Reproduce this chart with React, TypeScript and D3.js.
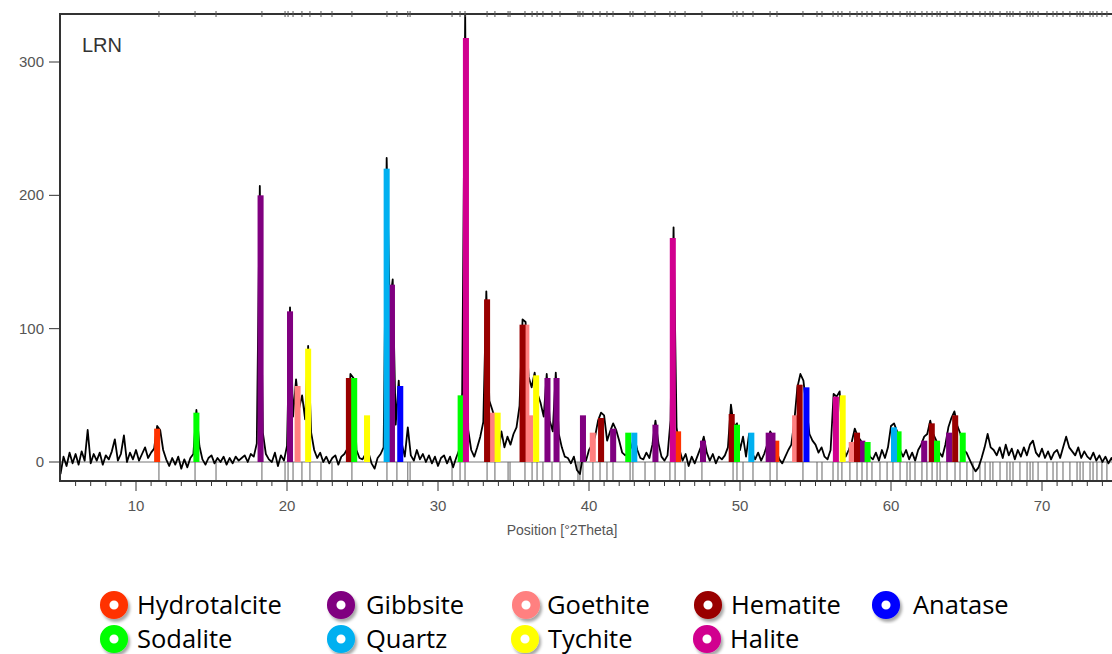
import React from "react";
import * as d3 from "d3";

// XRD scan, step 0.2 °2θ starting at 5.0
const scanStart = 5;
const scanStep = 0.2;
const intensity = [
  -9, 4, -3, 7, -1, 6, -2, 8, 1, 24,
  -1, 6, 1, 7, -2, 5, 2, 8, 17, 1,
  6, 20, 0, 7, 2, 9, 1, 6, 11, 3,
  7, 10, 27, 24, 9, 2, -3, 3, -2, 4,
  -5, 2, -4, 3, 6, 39, 12, 2, -2, 3,
  5, -1, 3, 0, 4, -2, 3, -1, 4, 1,
  3, 5, 0, 6, 4, 14, 207, 22, 6, 2,
  0, 7, -3, 5, 1, 12, 116, 34, 62, 40,
  50, 32, 87, 22, 9, 3, 7, 0, 4, -1,
  3, 5, -2, 4, 6, 10, 66, 63, 9, 3,
  2, 6, 7, -1, -5, 3, 6, 11, 228, 118,
  137, 28, 61, 14, 4, 26, 5, 1, 9, 2,
  6, 0, 5, -1, 4, -3, 3, 5, -1, 4,
  -4, 3, 9, 52, 336, 24, 9, 4, 11, 19,
  30, 128, 46, 39, 31, 7, 23, 11, 19, 13,
  21, 26, 42, 107, 105, 64, 56, 67, 51, 44,
  34, 66, 31, 23, 67, 21, 11, 4, 3, -1,
  4, -6, -9, 5, 1, 9, 13, 19, 31, 37,
  35, 16, 23, 29, 24, 16, 7, 5, 7, 11,
  19, 9, 3, 2, 7, 3, 13, 31, 14, 4,
  1, 5, 31, 176, 26, 9, 1, 6, -3, 4,
  -1, 5, 11, 19, 7, 1, 6, -1, 4, 2,
  5, 11, 43, 26, 29, 9, 19, 4, 21, 7,
  2, 7, 1, 6, 13, 23, 19, 9, 2, -1,
  4, 9, 13, 31, 56, 66, 61, 41, 21, 16,
  13, 7, 11, 4, 2, 9, 51, 49, 53, 14,
  4, 9, 15, 25, 19, 16, 11, 12, 4, 2,
  7, 1, 9, 3, 11, 27, 29, 23, 9, 4,
  9, 2, 7, 1, 9, 13, 19, 21, 31, 21,
  16, 7, 4, 13, 26, 33, 38, 27, 21, 9,
  7, 2, -3, -7, -4, 3, 11, 21, 11, 9,
  5, 11, 3, 13, 5, 10, 2, 9, 4, 11,
  5, 13, 16, 7, 4, 10, 3, 8, 2, 7,
  9, 3, 11, 19, 11, 8, 5, 11, 3, 8,
  4, 2, 7, 1, 5, 0, 4, -1, 3, -2,
  1,
];

// reference stick positions (°2θ)
const sticks = [
  11.52, 13.91, 15.3, 18.34, 19.87, 20.07, 20.4, 20.99, 21.52, 22.25, 22.98, 24.3,
  26.62, 27.28, 28.0, 28.15, 30.93, 31.46, 31.79, 33.25, 33.77, 34.64, 34.77, 35.76,
  36.23, 36.56, 36.95, 37.55, 38.08, 39.27, 39.4, 39.6, 40.26, 40.73, 41.19, 41.59,
  42.72, 42.91, 43.71, 44.37, 45.36, 45.7, 46.36, 47.48, 49.54, 49.8, 50.2, 50.86,
  51.99, 52.45, 54.17, 55.1, 55.43, 56.16, 56.49, 56.75, 57.28, 57.75, 58.08, 58.41,
  58.74, 59.27, 59.74, 60.13, 60.6, 61.06, 61.26, 61.59, 62.05, 62.38, 62.72, 63.05,
  63.25, 63.71, 64.24, 64.57, 65.03, 65.43, 65.89, 66.23, 66.56, 66.75, 67.22, 67.68,
  67.88, 68.08, 68.54, 69.01, 69.21, 69.4, 69.74, 70.33, 70.73, 70.99, 71.39, 71.85,
  72.32, 72.52, 72.72, 73.18, 73.38, 73.64, 73.97, 74.3,
];

const phases = ["Hydrotalcite", "Gibbsite", "Goethite", "Hematite", "Anatase", "Sodalite", "Quartz", "Tychite", "Halite"];
const phaseColors = ["#ff3300", "#800080", "#ff8080", "#990000", "#0000ff", "#00ff00", "#00b0f0", "#ffff00", "#d1008f"];

// [position °2θ, counts]
const hydrotalcitePeaks = [[11.4, 25], [45.9, 23], [52.4, 16]];
const gibbsitePeaks = [[18.25, 200], [20.2, 113], [26.95, 133], [37.25, 63], [37.85, 63], [39.6, 35], [41.6, 25], [44.4, 28], [47.55, 16], [51.9, 22], [52.15, 22], [58.1, 16], [62.2, 16], [63.85, 22]];
const goethitePeaks = [[20.7, 57], [33.6, 37], [35.85, 103], [36.1, 35], [40.25, 22], [53.65, 35], [57.4, 15]];
const hematitePeaks = [[24.1, 63], [33.25, 122], [35.6, 103], [40.8, 33], [49.45, 36], [53.95, 58], [57.75, 22], [62.7, 29], [64.25, 35]];
const anatasePeaks = [[27.5, 57], [54.4, 56]];
const sodalitePeaks = [[14.0, 37], [24.45, 63], [31.5, 50], [42.6, 22], [49.8, 28], [58.45, 15], [60.5, 23], [63.05, 16], [64.75, 22]];
const quartzPeaks = [[26.6, 220], [43.0, 22], [50.75, 22], [60.2, 26]];
const tychitePeaks = [[21.4, 85], [25.3, 35], [33.95, 37], [36.5, 65], [56.8, 50]];
const halitePeaks = [[31.85, 318], [45.55, 168], [56.35, 49]];

const phasePeaks = [hydrotalcitePeaks, gibbsitePeaks, goethitePeaks, hematitePeaks, anatasePeaks, sodalitePeaks, quartzPeaks, tychitePeaks, halitePeaks];

const xTicks = [10, 20, 30, 40, 50, 60, 70];
const yTicks = [0, 100, 200, 300];

export default function App() {
  const W = 1112;
  const H = 654;
  const left = 60;
  const top = 14;
  const axisY = 481;

  const x = d3.scaleLinear().domain([5, 75]).range([60.5, 1117.5]);
  const y = d3.scaleLinear().domain([0, 300]).range([462, 62]);

  const scan = intensity.map((v, i) => [scanStart + i * scanStep, v] as [number, number]);
  const line = d3
    .line<[number, number]>()
    .x((d) => x(d[0]))
    .y((d) => y(d[1]));

  const barHalf = 0.2;
  const minor = d3.range(6, 75, 1);

  const legendItems = [
    { i: 0, cx: 114, cy: 605, tx: 137 },
    { i: 1, cx: 341, cy: 605, tx: 366 },
    { i: 2, cx: 526, cy: 605, tx: 547 },
    { i: 3, cx: 708, cy: 605, tx: 731 },
    { i: 4, cx: 886, cy: 605, tx: 913 },
    { i: 5, cx: 114, cy: 639, tx: 137 },
    { i: 6, cx: 341, cy: 639, tx: 366 },
    { i: 7, cx: 525, cy: 639, tx: 548 },
    { i: 8, cx: 707, cy: 639, tx: 730 },
  ];

  return (
    <svg width={W} height={H} style={{ position: "absolute", left: 0, top: 0, background: "#fff" }} fontFamily="'Liberation Sans', Arial, sans-serif">
      <defs>
        <filter id="shadow" x="-50%" y="-50%" width="200%" height="200%">
          <feDropShadow dx="2" dy="3" stdDeviation="1.5" floodColor="#000" floodOpacity="0.35" />
        </filter>
        <clipPath id="plot">
          <rect x={left} y={top} width={W - left} height={axisY - top} />
        </clipPath>
      </defs>

      {/* zero line */}
      <line x1={left} x2={W} y1={y(0)} y2={y(0)} stroke="#777" strokeWidth={1} />

      {/* reference sticks */}
      <g stroke="#666" strokeWidth={1}>
        {sticks.map((s, i) => (
          <line key={i} x1={x(s)} x2={x(s)} y1={y(0)} y2={axisY} />
        ))}
      </g>

      {/* scan */}
      <g clipPath="url(#plot)">
        <path d={line(scan) || ""} fill="none" stroke="#000" strokeWidth={1.8} strokeLinejoin="round" />
        {phasePeaks.map((peaks, p) =>
          peaks.map((pk, j) => (
            <rect
              key={p + "-" + j}
              x={x(pk[0] - barHalf)}
              width={x(pk[0] + barHalf) - x(pk[0] - barHalf)}
              y={y(pk[1])}
              height={y(0) - y(pk[1])}
              fill={phaseColors[p]}
            />
          ))
        )}
      </g>

      {/* frame */}
      <line x1={left} x2={W} y1={top} y2={top} stroke="#333" strokeWidth={2} />
      <line x1={left} x2={left} y1={top - 1} y2={axisY + 1} stroke="#333" strokeWidth={2} />
      <line x1={left} x2={W} y1={axisY} y2={axisY} stroke="#333" strokeWidth={2} />

      {/* top ticks at stick positions */}
      <g stroke="#555" strokeWidth={1}>
        {sticks.map((s, i) => (
          <line key={i} x1={x(s)} x2={x(s)} y1={top - 3} y2={top + 3} />
        ))}
      </g>

      {/* x axis ticks */}
      <g stroke="#333" strokeWidth={1}>
        {minor.map((t) => (
          <line key={t} x1={x(t)} x2={x(t)} y1={axisY} y2={axisY + (t % 10 === 0 ? 10 : 5)} />
        ))}
      </g>
      <g fill="#555" fontSize={15} textAnchor="middle">
        {xTicks.map((t) => (
          <text key={t} x={x(t)} y={511}>
            {t}
          </text>
        ))}
      </g>
      <text x={562} y={535} fill="#555" fontSize={14} textAnchor="middle">
        Position [°2Theta]
      </text>

      {/* y axis */}
      <g stroke="#333" strokeWidth={1}>
        {yTicks.map((t) => (
          <line key={t} x1={49} x2={left} y1={y(t)} y2={y(t)} />
        ))}
      </g>
      <g fill="#555" fontSize={15} textAnchor="end">
        {yTicks.map((t) => (
          <text key={t} x={44} y={y(t) + 5}>
            {t}
          </text>
        ))}
      </g>

      <text x={82} y={52} fill="#333" fontSize={20}>
        LRN
      </text>

      {/* legend */}
      <g fontFamily="'Open Sans', sans-serif" fontSize={25.5}>
        {legendItems.map((d) => (
          <g key={d.i}>
            <circle cx={d.cx} cy={d.cy} r={9.3} fill="#fff" stroke={phaseColors[d.i]} strokeWidth={9.5} filter="url(#shadow)" />
            <text x={d.tx} y={d.cy + 9} fill="#000">
              {phases[d.i]}
            </text>
          </g>
        ))}
      </g>
    </svg>
  );
}
